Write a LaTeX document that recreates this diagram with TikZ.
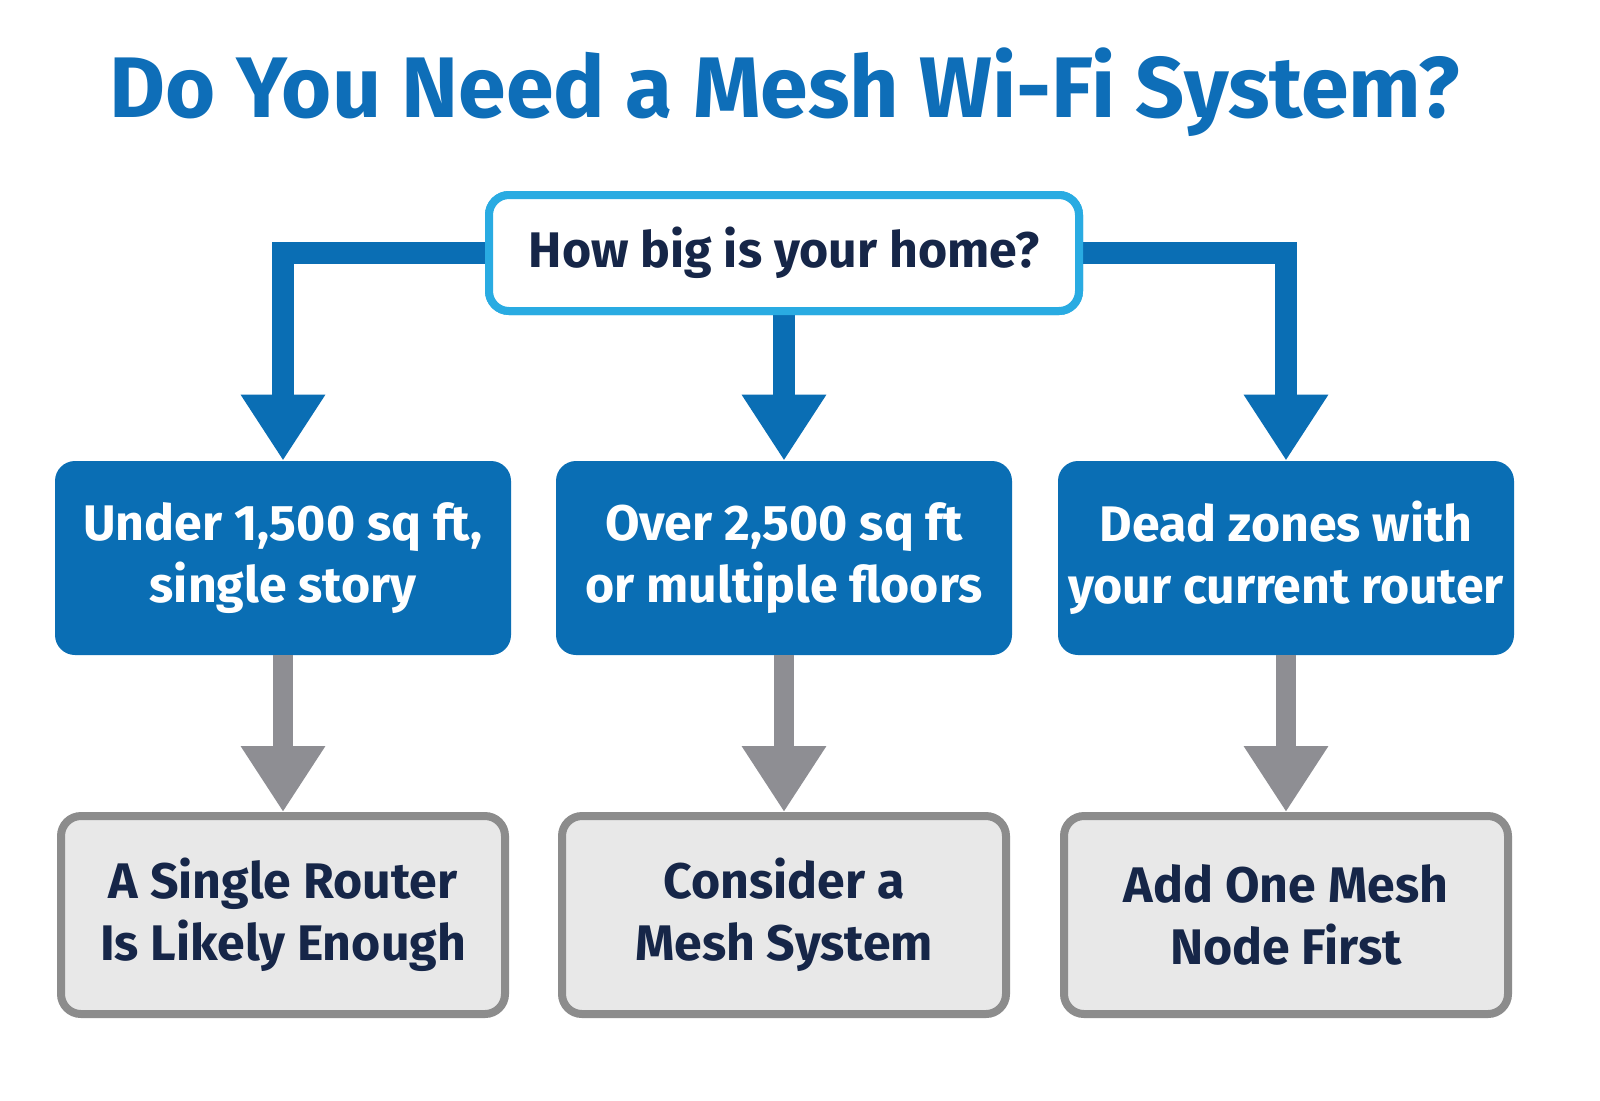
\documentclass[tikz,border=0pt]{standalone}
\usepackage{fontspec}
\setmainfont{Fira Sans}
\usetikzlibrary{arrows.meta}
\definecolor{titleblue}{RGB}{14,110,184}
\definecolor{skyblue}{RGB}{41,171,226}
\definecolor{boxblue}{RGB}{10,110,180}
\definecolor{navy}{RGB}{22,38,72}
\definecolor{arrowgray}{RGB}{142,142,147}
\definecolor{boxgray}{RGB}{232,232,232}
\definecolor{edgegray}{RGB}{140,140,140}
\tikzset{
	question/.style={draw=skyblue, line width=4pt, fill=white, rounded corners=10pt,
		minimum width=295pt, minimum height=58pt, font=\fontsize{25}{30}\selectfont\bfseries, text=navy},
	choice/.style={fill=boxblue, rounded corners=10pt, minimum width=228pt, minimum height=97pt,
		align=center, text=white, font=\fontsize{25}{31}\selectfont\bfseries},
	result/.style={draw=edgegray, line width=4pt, fill=boxgray, rounded corners=10pt,
		minimum width=222pt, minimum height=99pt, align=center, text=navy,
		font=\fontsize{25}{31}\selectfont\bfseries},
	bluearrow/.style={draw=boxblue, line width=11pt, -{Triangle[width=40pt,length=33pt]}},
	grayarrow/.style={draw=arrowgray, line width=10pt, -{Triangle[width=40pt,length=33pt]}}
}
\begin{document}
\begin{tikzpicture}[x=0.5pt,y=-0.5pt]
	\useasboundingbox[fill=white] (0,0) rectangle (1600,1100);

	% title
	\node (title) at (785,92) [text=titleblue, font=\fontsize{43}{52}\selectfont\bfseries] {Do You Need a Mesh Wi-Fi System?};

	% nodes
	\node (home) at (784,253) [question] {How big is your home?};
	\node (small) at (283,558) [choice] {Under 1,500 sq ft,\\single story};
	\node (large) at (784,558) [choice] {Over 2,500 sq ft\\or multiple floors};
	\node (dead) at (1286,558) [choice] {Dead zones with\\your current router};
	\node (router) at (283,915) [result] {A Single Router\\Is Likely Enough};
	\node (mesh) at (784,915) [result] {Consider a\\Mesh System};
	\node (node) at (1286,915) [result] {Add One Mesh\\Node First};

	% connectors
	\draw[bluearrow] (home.west) -| (small.north);
	\draw[bluearrow] (home.south) -- (large.north);
	\draw[bluearrow] (home.east) -| (dead.north);
	\draw[grayarrow] (small.south) -- (router.north);
	\draw[grayarrow] (large.south) -- (mesh.north);
	\draw[grayarrow] (dead.south) -- (node.north);

	% redraw question box on top of arrow stubs
	\node at (home) [question] {How big is your home?};
\end{tikzpicture}
\end{document}
